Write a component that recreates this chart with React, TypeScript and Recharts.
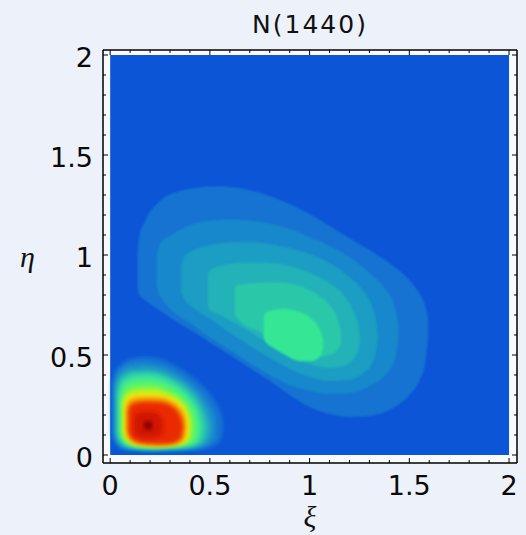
import React from 'react'
import { ComposedChart, Area, XAxis, YAxis, CartesianGrid } from 'recharts'

// [xi, eta_low, eta_high] slices of each filled contour
type Row = [number, number, number]

const X_TICKS = [0, 0.1, 0.2, 0.3, 0.4, 0.5, 0.6, 0.7, 0.8, 0.9, 1, 1.1, 1.2, 1.3, 1.4, 1.5, 1.6, 1.7, 1.8, 1.9, 2]
const Y_TICKS = [0, 0.1, 0.2, 0.3, 0.4, 0.5, 0.6, 0.7, 0.8, 0.9, 1, 1.1, 1.2, 1.3, 1.4, 1.5, 1.6, 1.7, 1.8, 1.9, 2]
const LABELED_TICKS = [0, 0.5, 1, 1.5, 2]

const PLOT_RANGE: Row[] = [[0, 0, 2], [2, 0, 2]]

// large lobe, outermost to innermost
const B1: Row[] = [
  [0.137, 0.84, 0.99], [0.145, 0.8, 1.09], [0.174, 0.775, 1.167], [0.255, 0.717, 1.275],
  [0.35, 0.655, 1.32], [0.424, 0.612, 1.335], [0.52, 0.55, 1.342], [0.6, 0.5, 1.34],
  [0.7, 0.435, 1.325], [0.8, 0.37, 1.295], [0.9, 0.3, 1.255], [1.0, 0.24, 1.205],
  [1.1, 0.205, 1.145], [1.2, 0.19, 1.085], [1.3, 0.195, 1.025], [1.4, 0.225, 0.96],
  [1.5, 0.3, 0.875], [1.55, 0.37, 0.81], [1.58, 0.46, 0.745], [1.595, 0.6, 0.68],
]
const B2: Row[] = [
  [0.232, 0.85, 0.985], [0.24, 0.815, 1.03], [0.257, 0.783, 1.065], [0.307, 0.725, 1.1],
  [0.4, 0.66, 1.15], [0.508, 0.583, 1.172], [0.6, 0.525, 1.178], [0.7, 0.46, 1.172],
  [0.8, 0.4, 1.158], [0.9, 0.35, 1.13], [1.0, 0.32, 1.09], [1.1, 0.305, 1.045],
  [1.2, 0.31, 0.99], [1.3, 0.345, 0.91], [1.38, 0.4, 0.83], [1.425, 0.47, 0.75],
  [1.445, 0.57, 0.66],
]
const B3: Row[] = [
  [0.357, 0.815, 0.95], [0.37, 0.78, 0.99], [0.42, 0.733, 1.025], [0.5, 0.68, 1.05],
  [0.59, 0.617, 1.062], [0.7, 0.545, 1.065], [0.8, 0.485, 1.055], [0.9, 0.43, 1.035],
  [1.0, 0.39, 1.005], [1.1, 0.37, 0.96], [1.2, 0.375, 0.89], [1.27, 0.41, 0.82],
  [1.315, 0.46, 0.74], [1.335, 0.53, 0.66], [1.342, 0.58, 0.6],
]
const B4: Row[] = [
  [0.49, 0.75, 0.9], [0.5, 0.725, 0.925], [0.55, 0.7, 0.945], [0.6, 0.675, 0.955],
  [0.7, 0.615, 0.962], [0.8, 0.555, 0.96], [0.9, 0.495, 0.945], [1.0, 0.455, 0.91],
  [1.1, 0.435, 0.86], [1.17, 0.445, 0.8], [1.22, 0.48, 0.72], [1.245, 0.53, 0.64],
  [1.252, 0.57, 0.59],
]
const B5: Row[] = [
  [0.625, 0.7, 0.835], [0.64, 0.68, 0.85], [0.75, 0.615, 0.86], [0.85, 0.555, 0.862],
  [0.95, 0.51, 0.845], [1.04, 0.49, 0.8], [1.1, 0.5, 0.75], [1.14, 0.525, 0.68],
  [1.158, 0.56, 0.61],
]
const B6: Row[] = [
  [0.77, 0.59, 0.69], [0.78, 0.565, 0.71], [0.82, 0.535, 0.725], [0.87, 0.505, 0.73],
  [0.95, 0.47, 0.715], [1.01, 0.47, 0.68], [1.05, 0.49, 0.63], [1.068, 0.53, 0.58],
]

// small lobe near the origin, outermost to innermost
const S1: Row[] = [
  [0.01, 0.11, 0.36], [0.02, 0.07, 0.41], [0.05, 0.035, 0.45], [0.1, 0.022, 0.48],
  [0.17, 0.018, 0.49], [0.25, 0.018, 0.48], [0.32, 0.02, 0.45], [0.4, 0.022, 0.4],
  [0.47, 0.03, 0.34], [0.52, 0.045, 0.28], [0.55, 0.07, 0.22], [0.562, 0.11, 0.18],
  [0.566, 0.14, 0.15],
]
const S2: Row[] = [
  [0.02, 0.11, 0.34], [0.03, 0.07, 0.39], [0.06, 0.04, 0.43], [0.1, 0.03, 0.45],
  [0.17, 0.026, 0.456], [0.25, 0.026, 0.445], [0.32, 0.028, 0.415], [0.4, 0.032, 0.36],
  [0.46, 0.04, 0.3], [0.5, 0.06, 0.24], [0.52, 0.09, 0.19], [0.526, 0.13, 0.155],
]
const S3: Row[] = [
  [0.03, 0.11, 0.32], [0.04, 0.075, 0.37], [0.07, 0.045, 0.405], [0.12, 0.034, 0.422],
  [0.18, 0.03, 0.425], [0.25, 0.03, 0.415], [0.32, 0.032, 0.385], [0.4, 0.037, 0.33],
  [0.45, 0.05, 0.27], [0.48, 0.075, 0.205], [0.494, 0.12, 0.16],
]
const S4: Row[] = [
  [0.04, 0.11, 0.3], [0.05, 0.08, 0.35], [0.08, 0.05, 0.385], [0.13, 0.038, 0.402],
  [0.19, 0.034, 0.405], [0.26, 0.035, 0.39], [0.33, 0.038, 0.355], [0.4, 0.045, 0.295],
  [0.44, 0.06, 0.235], [0.458, 0.09, 0.185], [0.465, 0.13, 0.155],
]
const S5: Row[] = [
  [0.05, 0.11, 0.285], [0.06, 0.08, 0.325], [0.09, 0.055, 0.358], [0.14, 0.042, 0.372],
  [0.2, 0.038, 0.374], [0.27, 0.04, 0.358], [0.34, 0.044, 0.32], [0.4, 0.055, 0.26],
  [0.43, 0.075, 0.205], [0.44, 0.12, 0.16],
]
const S6: Row[] = [
  [0.06, 0.115, 0.265], [0.07, 0.085, 0.298], [0.1, 0.058, 0.325], [0.15, 0.046, 0.336],
  [0.21, 0.042, 0.337], [0.28, 0.045, 0.32], [0.35, 0.052, 0.28], [0.39, 0.065, 0.23],
  [0.405, 0.09, 0.19], [0.41, 0.125, 0.16],
]
const S7: Row[] = [
  [0.07, 0.115, 0.25], [0.08, 0.085, 0.28], [0.11, 0.06, 0.302], [0.16, 0.049, 0.31],
  [0.22, 0.045, 0.31], [0.29, 0.048, 0.292], [0.35, 0.056, 0.258], [0.38, 0.07, 0.215],
  [0.392, 0.1, 0.18], [0.395, 0.13, 0.16],
]
const S8: Row[] = [
  [0.08, 0.115, 0.24], [0.09, 0.085, 0.266], [0.12, 0.063, 0.285], [0.17, 0.052, 0.29],
  [0.23, 0.048, 0.289], [0.3, 0.051, 0.273], [0.345, 0.06, 0.24], [0.37, 0.078, 0.205],
  [0.378, 0.11, 0.175], [0.38, 0.135, 0.155],
]
const S9: Row[] = [
  [0.09, 0.12, 0.22], [0.1, 0.09, 0.247], [0.13, 0.068, 0.263], [0.18, 0.056, 0.268],
  [0.24, 0.052, 0.266], [0.3, 0.056, 0.25], [0.335, 0.066, 0.224], [0.355, 0.086, 0.19],
  [0.363, 0.115, 0.165], [0.365, 0.135, 0.15],
]
const S10: Row[] = [
  [0.12, 0.125, 0.185], [0.13, 0.1, 0.205], [0.16, 0.088, 0.215], [0.21, 0.086, 0.215],
  [0.245, 0.095, 0.2], [0.262, 0.12, 0.17], [0.265, 0.14, 0.155],
]
const S11: Row[] = [
  [0.168, 0.14, 0.158], [0.178, 0.128, 0.17], [0.2, 0.126, 0.17], [0.212, 0.138, 0.158],
]

const BIG = [B1, B2, B3, B4, B5, B6]
const BIG_COLORS = ['#1473d1', '#1888cb', '#1c9dc3', '#21b2b8', '#29c8a9', '#34e795']
const SMALL = [S1, S2, S3, S4, S5, S6, S7, S8, S9, S10, S11]
const SMALL_COLORS = [
  '#1674d2', '#1b93c8', '#26bdb2', '#38e39c', '#55f56a', '#aef22c',
  '#f2e60a', '#f59a00', '#ea2a06', '#d01400', '#8a0500',
]

const BG_BLUE = '#0b55d6'
const FONT = 'DejaVu Sans'

const toRows = (a: Row[]) => a.map(([x, lo, hi]) => ({ x, r: [lo, hi] }))
const isMajor = (v: number) => LABELED_TICKS.some((t) => Math.abs(t - v) < 1e-9)
const tickLen = (v: number) => (isMajor(v) ? 5 : 3)

const BottomTick = ({ x, y, payload }: any) => (
  <g>
    <line x1={x} x2={x} y1={y} y2={y - tickLen(payload.value)} stroke="#000" />
    {isMajor(payload.value) && (
      <text x={x} y={y + 32} textAnchor="middle" fontSize={27} fontFamily={FONT} fill="#0a0a0a">
        {String(payload.value)}
      </text>
    )}
  </g>
)

const TopTick = ({ x, y, payload }: any) => (
  <line x1={x} x2={x} y1={y} y2={y + tickLen(payload.value)} stroke="#000" />
)

const LeftTick = ({ x, y, payload }: any) => (
  <g>
    <line x1={x} x2={x + tickLen(payload.value)} y1={y} y2={y} stroke="#000" />
    {isMajor(payload.value) && (
      <text x={x - 10} y={y + 12} textAnchor="end" fontSize={27} fontFamily={FONT} fill="#0a0a0a">
        {String(payload.value)}
      </text>
    )}
  </g>
)

const RightTick = ({ x, y, payload }: any) => (
  <line x1={x} x2={x - tickLen(payload.value)} y1={y} y2={y} stroke="#000" />
)

const X_DOMAIN: [number, number] = [-0.036, 2.04]
const Y_DOMAIN: [number, number] = [-0.04, 2.025]
const frame = { stroke: '#000', strokeWidth: 1.5 }

export default function App() {
  return (
    <div style={{ position: 'absolute', left: 0, top: 0, width: 526, height: 535, background: '#edf1fa' }}>
      <ComposedChart width={526} height={535} margin={{ top: 49, right: 8, bottom: 71, left: 102 }}>
        <defs>
          <filter id="softBig" x="-10%" y="-10%" width="120%" height="120%">
            <feGaussianBlur stdDeviation="1" />
          </filter>
          <filter id="softSmall" x="-15%" y="-15%" width="130%" height="130%">
            <feGaussianBlur stdDeviation="2.3" />
          </filter>
        </defs>
        <CartesianGrid xAxisId="b" yAxisId="l" horizontal={false} vertical={false} fill="#f8fafd" stroke="none" />
        <Area
          xAxisId="b" yAxisId="l" data={toRows(PLOT_RANGE)} dataKey="r" type="linear"
          fill={BG_BLUE} fillOpacity={1} stroke="none" dot={false} activeDot={false} isAnimationActive={false}
        />
        {BIG.map((rows, i) => (
          <Area
            key={`big-${i}`} xAxisId="b" yAxisId="l" data={toRows(rows)} dataKey="r" type="monotone"
            fill={BIG_COLORS[i]} fillOpacity={1} stroke="none" filter="url(#softBig)"
            dot={false} activeDot={false} isAnimationActive={false}
          />
        ))}
        {SMALL.map((rows, i) => (
          <Area
            key={`small-${i}`} xAxisId="b" yAxisId="l" data={toRows(rows)} dataKey="r" type="monotone"
            fill={SMALL_COLORS[i]} fillOpacity={1} stroke="none" filter="url(#softSmall)"
            dot={false} activeDot={false} isAnimationActive={false}
          />
        ))}
        <XAxis
          xAxisId="b" orientation="bottom" dataKey="x" type="number" domain={X_DOMAIN} allowDataOverflow
          ticks={X_TICKS} interval={0} height={1} tickSize={0} tickMargin={0} tickLine={false}
          axisLine={frame} tick={(p: any) => <BottomTick {...p} />}
          label={{ value: 'ξ', position: 'bottom', offset: 42, fontSize: 30, fontStyle: 'italic', fontFamily: 'Liberation Serif', fill: '#111' }}
        />
        <XAxis
          xAxisId="t" orientation="top" dataKey="x" type="number" domain={X_DOMAIN} allowDataOverflow
          ticks={X_TICKS} interval={0} height={1} tickSize={0} tickMargin={0} tickLine={false}
          axisLine={frame} tick={(p: any) => <TopTick {...p} />}
          label={{ value: 'N(1440)', position: 'top', offset: 16, fontSize: 25, fontFamily: FONT, letterSpacing: 2, fill: '#111' }}
        />
        <YAxis
          yAxisId="l" orientation="left" type="number" domain={Y_DOMAIN} allowDataOverflow
          ticks={Y_TICKS} interval={0} width={1} tickSize={0} tickMargin={0} tickLine={false}
          axisLine={frame} tick={(p: any) => <LeftTick {...p} />}
          label={{ value: 'η', position: 'left', offset: 67, fontSize: 30, fontStyle: 'italic', fontFamily: 'Liberation Serif', fill: '#111' }}
        />
        <YAxis
          yAxisId="r" orientation="right" type="number" domain={Y_DOMAIN} allowDataOverflow
          ticks={Y_TICKS} interval={0} width={1} tickSize={0} tickMargin={0} tickLine={false}
          axisLine={frame} tick={(p: any) => <RightTick {...p} />}
        />
      </ComposedChart>
    </div>
  )
}
